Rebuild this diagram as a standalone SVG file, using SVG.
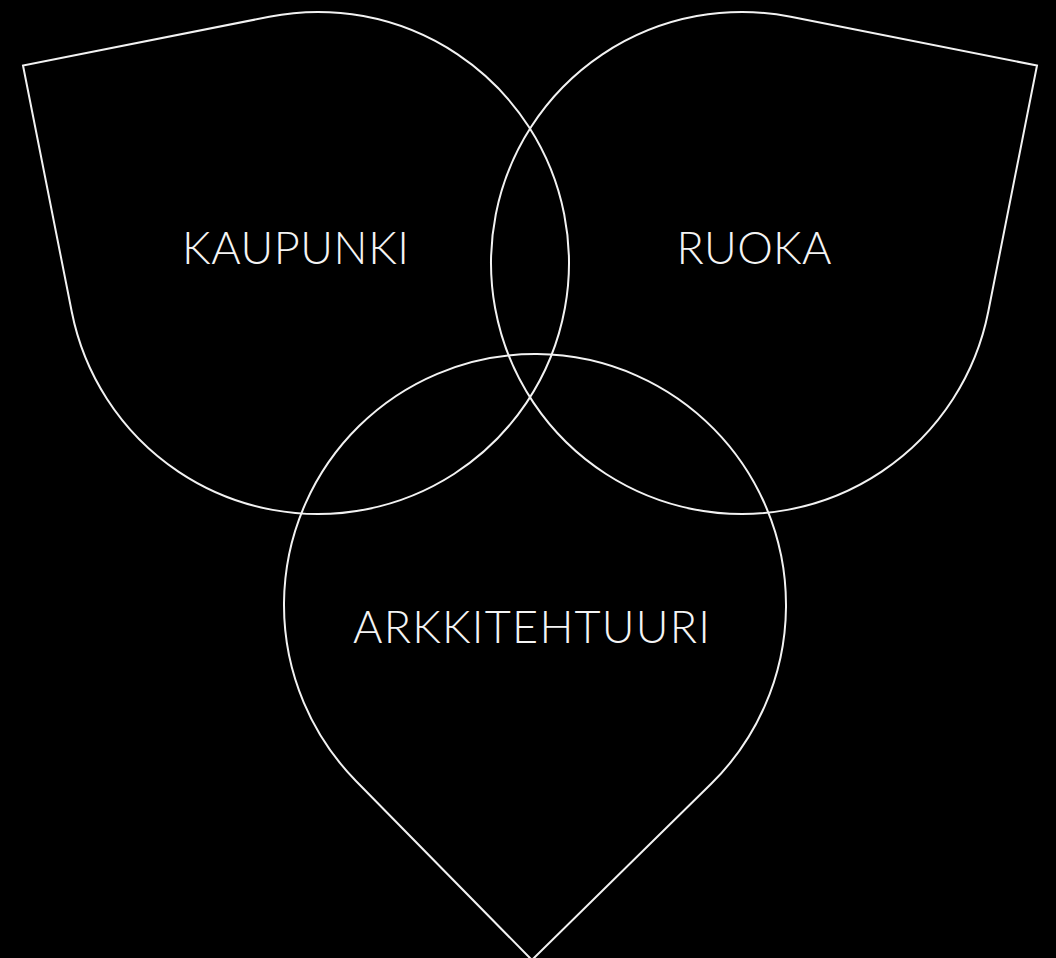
<svg xmlns="http://www.w3.org/2000/svg" width="1056" height="958" viewBox="0 0 1056 958">
  <defs>
    <style>
      .drop { fill: none; stroke: #f2f2f2; stroke-width: 2; stroke-linejoin: miter; }
      .lbl { fill: #f4f4f4; font-family: "Lato", "Open Sans", "Liberation Sans", sans-serif; font-weight: 300; font-size: 45px; text-anchor: middle; }
    </style>
    <path id="tear" d="M0,355 L177.5,177.5 A251,251 0 1 0 -177.5,177.5 Z"/>
  </defs>
  <rect x="0" y="0" width="1056" height="958" fill="#000"/>
  <g id="kaupunki">
    <use href="#tear" class="drop" transform="translate(318,263) rotate(123.8)"/>
    <text class="lbl" x="295.5" y="264" textLength="227">KAUPUNKI</text>
  </g>
  <g id="ruoka">
    <use href="#tear" class="drop" transform="translate(742,263) rotate(-123.8)"/>
    <text class="lbl" x="754" y="264" textLength="155">RUOKA</text>
  </g>
  <g id="arkkitehtuuri">
    <use href="#tear" class="drop" transform="translate(535,605) rotate(0.5)"/>
    <text class="lbl" x="531.5" y="643" textLength="357">ARKKITEHTUURI</text>
  </g>
  <g id="connectors"/>
</svg>
